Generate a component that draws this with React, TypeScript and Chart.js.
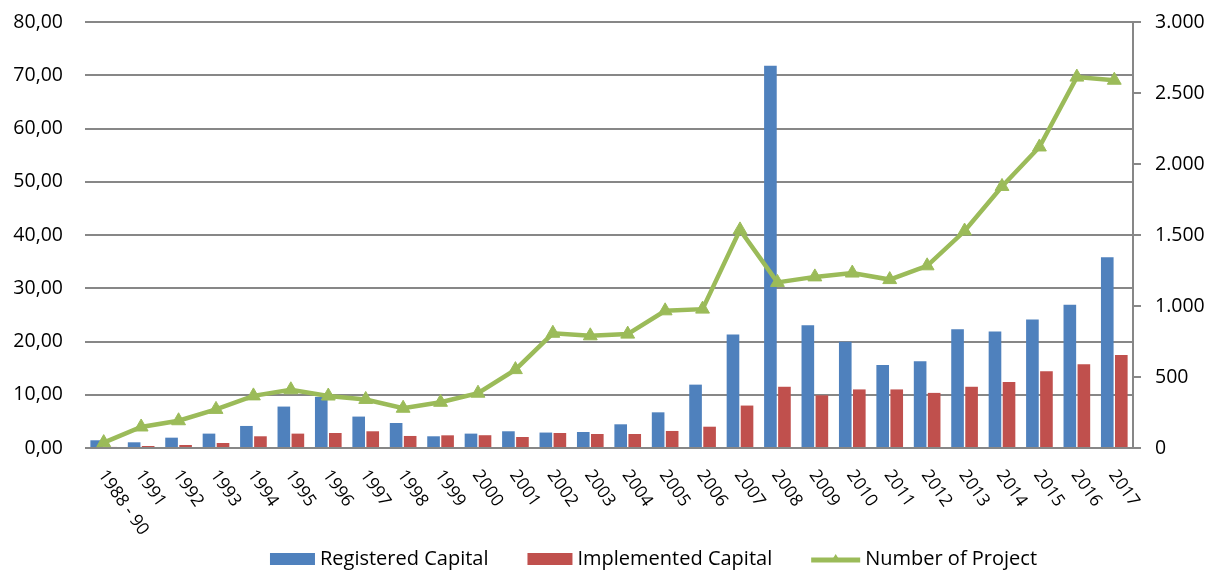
import React, { useEffect, useRef } from 'react';
import { Chart, registerables } from 'chart.js';

Chart.register(...registerables);

const categories = [
  '1988 - 90', '1991', '1992', '1993', '1994', '1995', '1996', '1997', '1998', '1999',
  '2000', '2001', '2002', '2003', '2004', '2005', '2006', '2007', '2008', '2009',
  '2010', '2011', '2012', '2013', '2014', '2015', '2016', '2017',
];

const registeredCapital = [
  1.45, 1.07, 1.94, 2.7, 4.14, 7.78, 9.6, 5.9, 4.7, 2.2,
  2.7, 3.14, 2.9, 3.0, 4.45, 6.7, 11.9, 21.3, 71.8, 23.05,
  19.95, 15.6, 16.3, 22.3, 21.9, 24.15, 26.9, 35.8,
];

const implementedCapital = [
  0.2, 0.38, 0.56, 0.94, 2.2, 2.7, 2.82, 3.14, 2.26, 2.38,
  2.4, 2.07, 2.82, 2.63, 2.63, 3.2, 4.0, 7.97, 11.5, 9.9,
  11.0, 11.0, 10.35, 11.5, 12.4, 14.4, 15.75, 17.45,
];

const numberOfProject = [
  38, 148, 192, 272, 367, 410, 366, 342, 280, 322,
  386, 552, 808, 790, 802, 966, 978, 1536, 1166, 1205,
  1232, 1186, 1283, 1528, 1842, 2120, 2612, 2590,
];

const leftTickLabels = ['0,00', '10,00', '20,00', '30,00', '40,00', '50,00', '60,00', '70,00', '80,00'];
const rightTickLabels = ['0', '500', '1.000', '1.500', '2.000', '2.500', '3.000'];

const seriesNames = ['Registered Capital', 'Implemented Capital', 'Number of Project'];

const BLUE = '#4F81BD';
const RED = '#C0504D';
const GREEN = '#9BBB59';
const GRID = '#878787';
const FONT_FAMILY = "'Open Sans', sans-serif";

const xLabelPlugin = {
  id: 'rotatedXLabels',
  afterDraw(chart: any) {
    const { ctx, chartArea } = chart;
    const xScale = chart.scales.x;
    ctx.save();
    ctx.font = `17.5px ${FONT_FAMILY}`;
    ctx.fillStyle = '#000';
    ctx.textAlign = 'left';
    ctx.textBaseline = 'middle';
    categories.forEach((label, i) => {
      const px = xScale.getPixelForValue(i);
      ctx.save();
      ctx.translate(px - 2, chartArea.bottom + 24);
      ctx.rotate((55 * Math.PI) / 180);
      ctx.fillText(label, 0, 0);
      ctx.restore();
    });
    ctx.restore();
  },
};

const legendPlugin = {
  id: 'customLegend',
  afterDraw(chart: any) {
    const { ctx } = chart;
    ctx.save();
    ctx.font = `20px ${FONT_FAMILY}`;
    ctx.textBaseline = 'middle';
    ctx.textAlign = 'left';
    const cy = 559;
    const boxW = 45;
    const lineW = 49;
    const gapBoxText = 5;
    const gapItems = 39;
    const widths = seriesNames.map((n) => ctx.measureText(n).width);
    const symW = [boxW, boxW, lineW];
    let total = 0;
    widths.forEach((w, i) => {
      total += symW[i] + gapBoxText + w;
      if (i < widths.length - 1) total += gapItems;
    });
    let x = 653.5 - total / 2;
    const colors = [BLUE, RED, GREEN];
    seriesNames.forEach((name, i) => {
      if (i < 2) {
        ctx.fillStyle = colors[i];
        ctx.fillRect(x, cy - 6, boxW, 12);
      } else {
        ctx.strokeStyle = GREEN;
        ctx.lineWidth = 5;
        ctx.beginPath();
        ctx.moveTo(x, cy + 1);
        ctx.lineTo(x + lineW, cy + 1);
        ctx.stroke();
        const tx = x + lineW / 2;
        ctx.fillStyle = GREEN;
        ctx.beginPath();
        ctx.moveTo(tx, cy - 5);
        ctx.lineTo(tx + 5, cy + 3);
        ctx.lineTo(tx - 5, cy + 3);
        ctx.closePath();
        ctx.fill();
      }
      x += symW[i] + gapBoxText;
      ctx.fillStyle = '#000';
      ctx.fillText(name, x, cy);
      x += widths[i] + gapItems;
    });
    ctx.restore();
  },
};

export default function App() {
  const canvasRef = useRef<HTMLCanvasElement | null>(null);

  useEffect(() => {
    const canvas = canvasRef.current;
    if (!canvas) return;
    const font = { family: FONT_FAMILY, size: 19.5 };
    const chart = new Chart(canvas, {
      type: 'bar',
      data: {
        labels: categories,
        datasets: [
          {
            type: 'line',
            label: seriesNames[2],
            data: numberOfProject,
            yAxisID: 'y1',
            borderColor: GREEN,
            backgroundColor: GREEN,
            borderWidth: 4.5,
            pointStyle: 'triangle',
            pointRadius: 8,
            pointBackgroundColor: GREEN,
            pointBorderColor: GREEN,
            pointBorderWidth: 1,
            tension: 0,
            order: 0,
          } as any,
          {
            type: 'bar',
            label: seriesNames[0],
            data: registeredCapital,
            yAxisID: 'y',
            backgroundColor: BLUE,
            categoryPercentage: 0.75,
            barPercentage: 0.9,
            order: 1,
          },
          {
            type: 'bar',
            label: seriesNames[1],
            data: implementedCapital,
            yAxisID: 'y',
            backgroundColor: RED,
            categoryPercentage: 0.75,
            barPercentage: 0.9,
            order: 1,
          },
        ],
      },
      options: {
        responsive: false,
        animation: false,
        layout: { padding: { top: 22, left: 0, right: 0, bottom: 0 } },
        plugins: {
          legend: { display: false },
          tooltip: { enabled: false },
        },
        scales: {
          x: {
            grid: { display: false },
            border: { display: false },
            ticks: { display: false },
            afterFit: (s: any) => {
              s.height = 123;
              s.paddingLeft = 0;
              s.paddingRight = 0;
            },
          },
          y: {
            position: 'left',
            min: 0,
            max: 80,
            ticks: {
              stepSize: 10,
              font,
              color: '#000',
              padding: 22,
              callback: (_v: any, i: number) => leftTickLabels[i],
            },
            grid: { color: GRID, lineWidth: 2, drawTicks: false },
            border: { display: false },
            afterFit: (s: any) => {
              s.width = 85;
              s.paddingTop = 0;
              s.paddingBottom = 0;
            },
          },
          y1: {
            position: 'right',
            min: 0,
            max: 3000,
            ticks: {
              stepSize: 500,
              font,
              color: '#000',
              padding: 14,
              callback: (_v: any, i: number) => rightTickLabels[i],
            },
            grid: { drawOnChartArea: false, color: GRID, lineWidth: 2, tickLength: 8 },
            border: { display: true, color: GRID, width: 2 },
            afterFit: (s: any) => {
              s.width = 78;
              s.paddingTop = 0;
              s.paddingBottom = 0;
            },
          },
        },
      } as any,
      plugins: [xLabelPlugin, legendPlugin],
    });
    return () => chart.destroy();
  }, []);

  return (
    <div style={{ position: 'fixed', left: 0, top: 0, width: 1211, height: 571, background: '#fff' }}>
      <canvas ref={canvasRef} width={1211} height={571} />
    </div>
  );
}
